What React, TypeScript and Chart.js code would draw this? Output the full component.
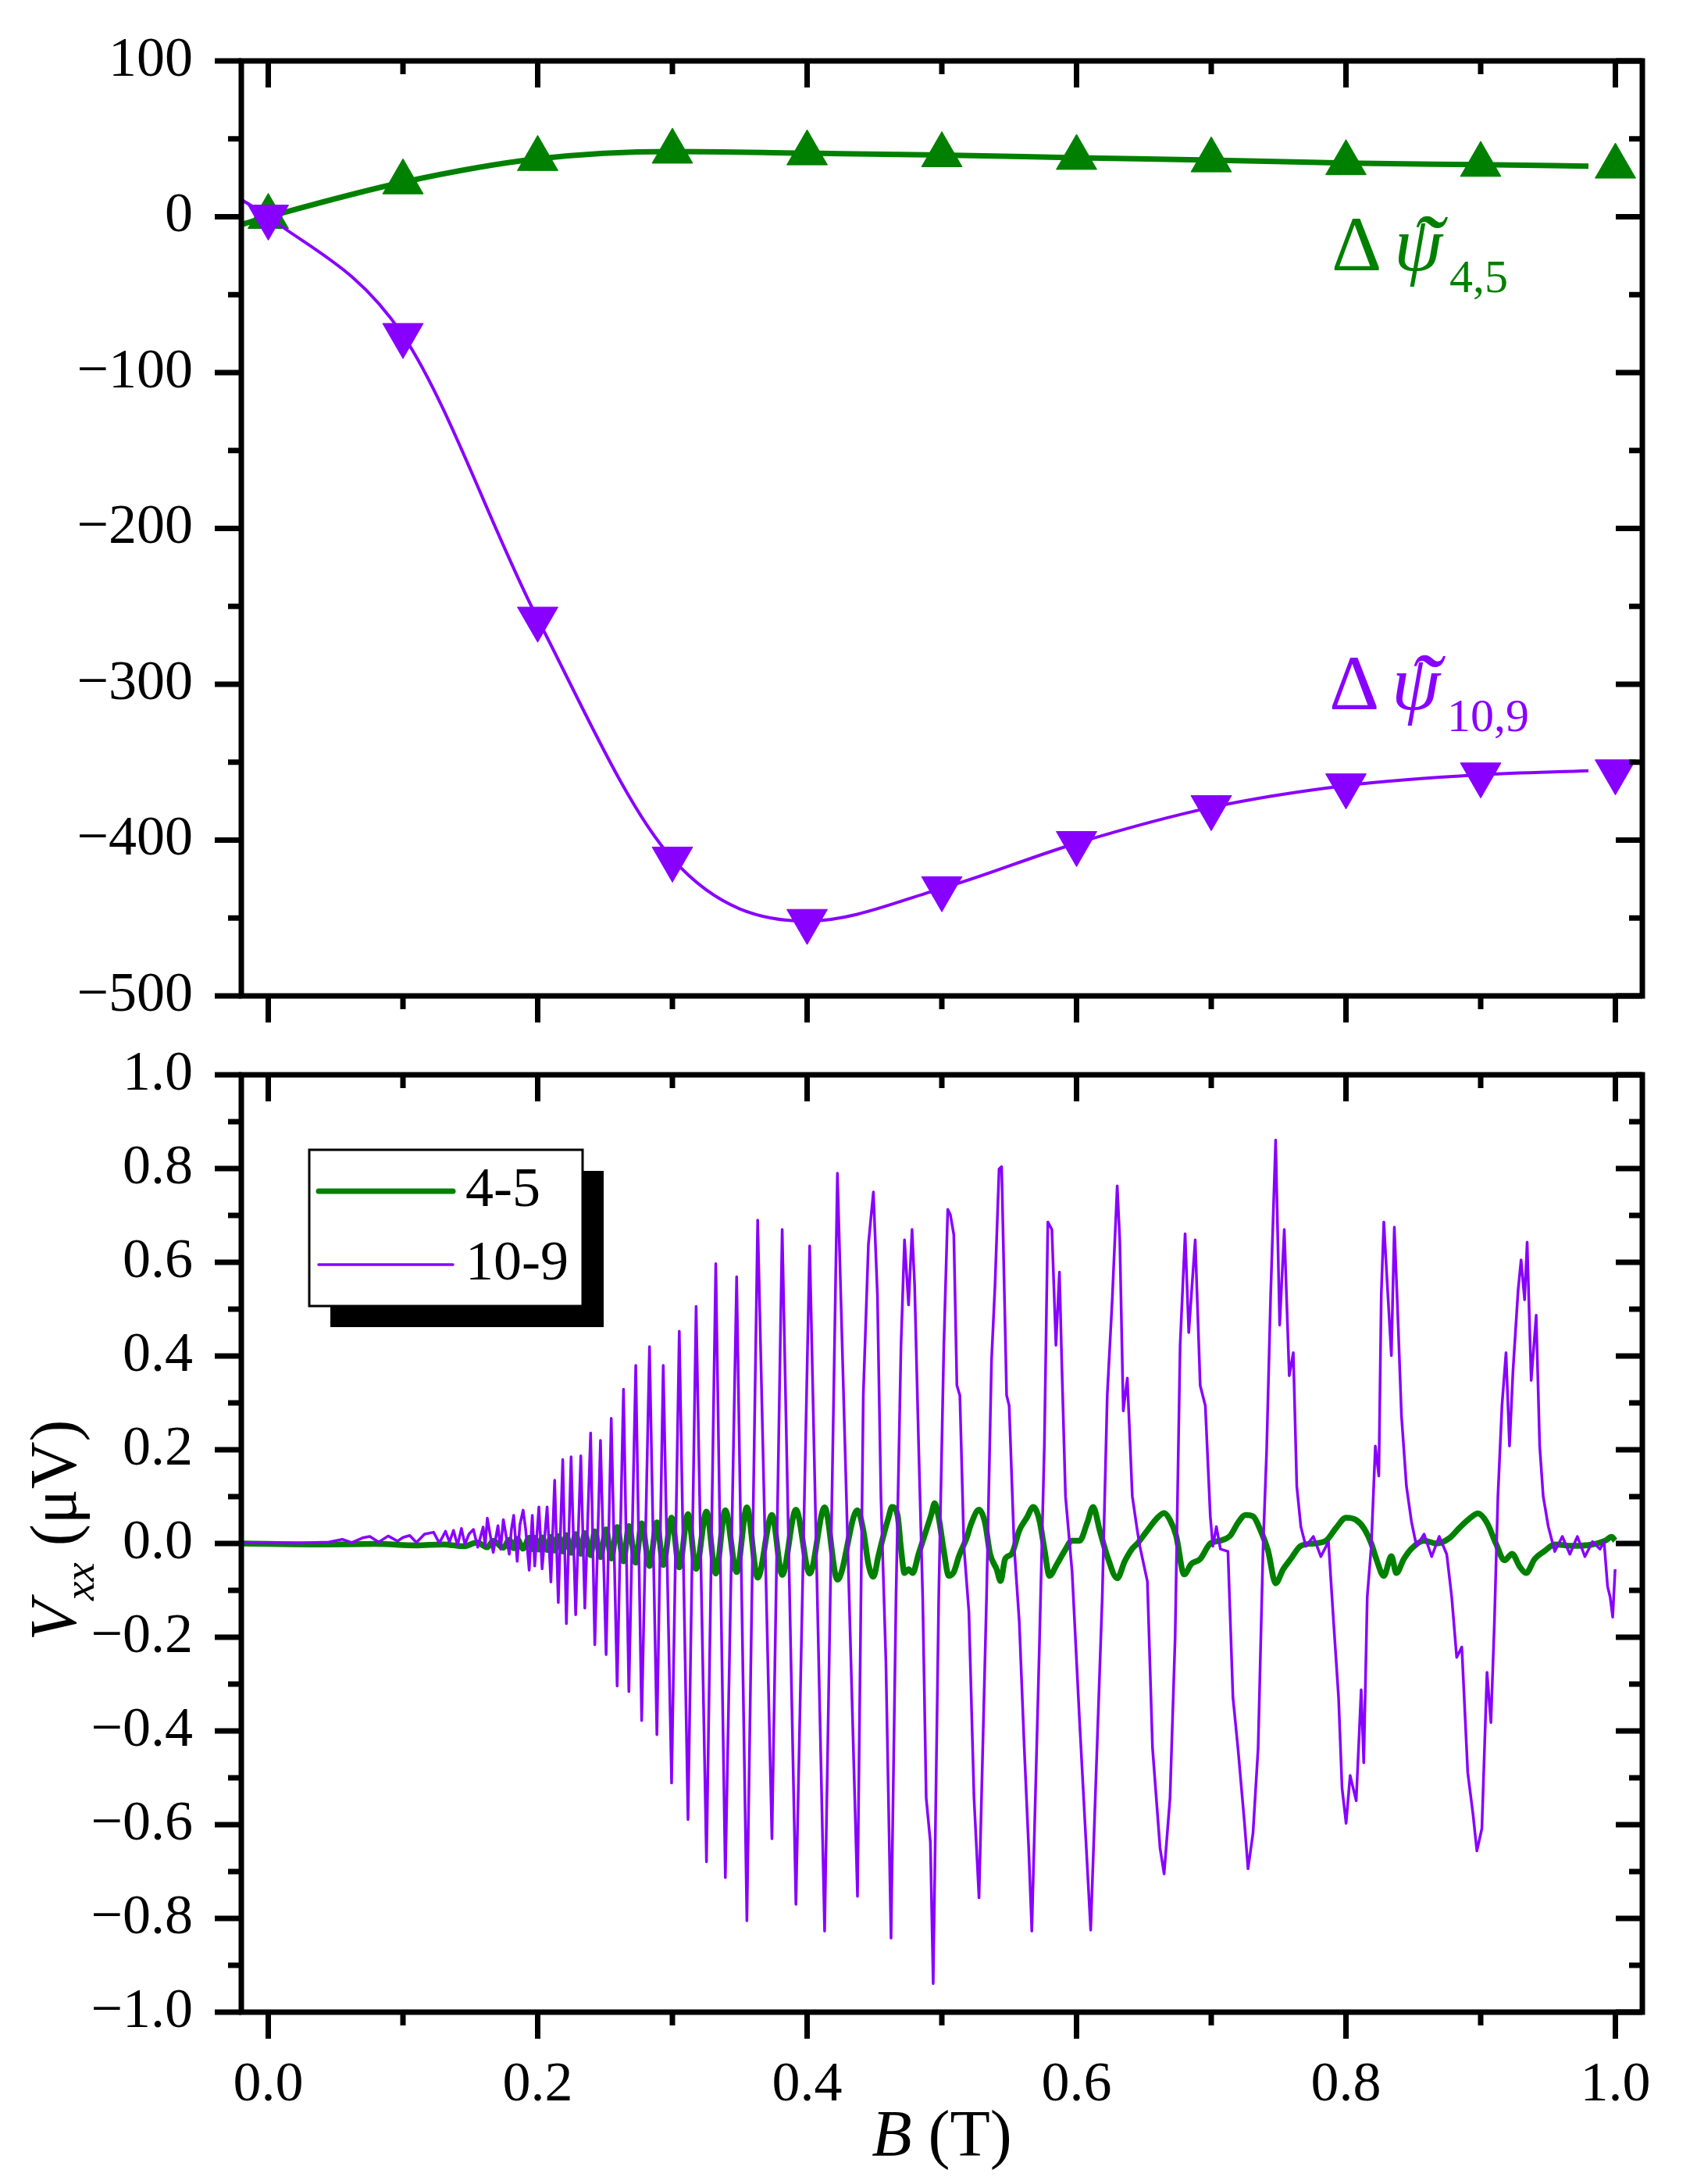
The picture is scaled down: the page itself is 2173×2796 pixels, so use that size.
import React, { useEffect, useRef } from 'react';
import { Chart, registerables } from 'chart.js';

Chart.register(...registerables);

const SERIF = '"Liberation Serif", "Times New Roman", Times, serif';
const GREEN = '#008000';
const VIOLET = '#8800ff';
const MINUS = '\u2212';

// ---------- upper panel: phase shift versus field ----------
const markerField = [0, 0.1, 0.2, 0.3, 0.4, 0.5, 0.6, 0.7, 0.8, 0.9, 1.0];
const psi45 = [0, 22.2, 37.2, 41.9, 40.8, 39.6, 37.9, 36.3, 34.5, 33.4, 32.3];
const psi109 = [0, -76, -258, -412, -452, -431, -402, -379, -365, -358, -356];

// guide curves drawn through the markers
const guideField = [-0.02, 0, 0.1, 0.2, 0.3, 0.4, 0.5, 0.6, 0.7, 0.8, 0.9, 0.98];
const guide45 = [-5, 0, 22.2, 37.2, 41.9, 40.8, 39.6, 37.9, 36.3, 34.5, 33.4, 32.5];
const guide109 = [11, 0, -76, -258, -412, -452, -431, -402, -379, -365, -358, -355.5];

// ---------- lower panel: V_xx traces ----------
const field45 = [
  -0.019, 0.04, 0.08, 0.11, 0.13, 0.145, 0.155, 0.1626, 0.167, 0.1745,
  0.1789, 0.1822, 0.1848, 0.1892, 0.1937, 0.196, 0.1978, 0.2009, 0.2033, 0.207,
  0.2098,
  0.2126, 0.2153, 0.2186, 0.2213, 0.2248, 0.2282, 0.232, 0.235, 0.2393, 0.2424,
  0.2466, 0.2508, 0.2546, 0.259, 0.2637, 0.2677, 0.2728, 0.2772, 0.283, 0.2885,
  0.2932, 0.2994, 0.3051, 0.3116, 0.3176, 0.3253, 0.3322, 0.3393, 0.3477, 0.3553,
  0.3633, 0.3739, 0.3815, 0.3917, 0.4019, 0.413, 0.4225, 0.4374,
  0.4417, 0.4455, 0.4492, 0.4529, 0.4567, 0.4604, 0.463, 0.4671, 0.4697, 0.4723,
  0.4753, 0.4783, 0.4828, 0.4884, 0.4921, 0.4947, 0.4977, 0.5015, 0.5052, 0.5089,
  0.5127, 0.5183, 0.522, 0.5276, 0.5321, 0.5358, 0.5407, 0.5436, 0.547, 0.5519,
  0.5575, 0.5631, 0.5679, 0.5724, 0.5761, 0.5799, 0.5855, 0.5911, 0.5967, 0.6023,
  0.6079, 0.6123, 0.6172, 0.6228, 0.6302, 0.6358, 0.6414, 0.6452, 0.6526, 0.6601,
  0.665, 0.6694, 0.6739, 0.6799, 0.6851, 0.6918, 0.6993, 0.7068, 0.7142, 0.7198,
  0.7254, 0.731, 0.7366, 0.7422, 0.7478, 0.7534, 0.759, 0.7665, 0.7758, 0.7852,
  0.7926, 0.8001, 0.8076, 0.8132, 0.8188, 0.8225, 0.8281, 0.8337, 0.8374, 0.843,
  0.8486, 0.858, 0.8673, 0.8766, 0.8841, 0.8916, 0.898, 0.9047, 0.9113, 0.9177,
  0.9233, 0.9289, 0.9337, 0.9401, 0.9475, 0.955, 0.9681, 0.983, 0.9924, 0.9972,
  0.9998,
];
const vxx45 = [
  0.0, -0.002, -0.001, -0.004, -0.002, -0.006, 0.002, -0.008, 0.006, -0.009,
  0.008, -0.01, 0.01, -0.011, 0.012, -0.012, 0.012, -0.013, 0.013, -0.014,
  0.014,
  -0.015, 0.016, -0.017, 0.018, -0.02, 0.02, -0.022, 0.022, -0.025, 0.026,
  -0.029, 0.03, -0.032, 0.035, -0.038, 0.037, -0.041, 0.043, -0.048, 0.045,
  -0.046, 0.055, -0.051, 0.0625, -0.054, 0.068, -0.064, 0.071, -0.061, 0.077,
  -0.073, 0.061, -0.067, 0.072, -0.064, 0.077, -0.077, 0.071,
  0.028, -0.044, -0.071, -0.027, 0.017, 0.055, 0.078, 0.061, -0.011, -0.063,
  -0.055, -0.063, -0.022, 0.028, 0.061, 0.086, 0.055, -0.016, -0.069, -0.061,
  -0.027, 0.011, 0.044, 0.072, 0.044, -0.022, -0.055, -0.08, -0.033, -0.022,
  0.028, 0.055, 0.078, 0.05, -0.011, -0.069, -0.044, -0.016, 0.006, 0.006,
  0.044, 0.078, 0.028, -0.027, -0.074, -0.038, -0.011, 0.0, 0.028, 0.055,
  0.065, 0.05, 0.017, -0.066, -0.044, -0.033, 0.0, 0.006, 0.017, 0.044,
  0.061, 0.058, 0.028, -0.016, -0.085, -0.055, -0.033, -0.005, 0.0, 0.006,
  0.033, 0.055, 0.05, 0.033, 0.0, -0.033, -0.069, -0.027, -0.063, -0.033,
  -0.011, 0.006, 0.0, 0.011, 0.033, 0.053, 0.064, 0.044, 0.0, -0.036,
  -0.022, -0.049, -0.063, -0.033, -0.016, -0.002, -0.005, -0.002, 0.006, 0.014,
  0.006,
];

const field109 = [
  -0.019, 0.02, 0.045, 0.055, 0.062, 0.07, 0.0754, 0.082, 0.089, 0.096,
  0.1, 0.105, 0.11, 0.116, 0.1227, 0.127, 0.1316, 0.1345, 0.1375, 0.1405,
  0.1434, 0.146, 0.149, 0.1523, 0.1555, 0.1595, 0.161, 0.1626, 0.167, 0.1705,
  0.1725, 0.1745, 0.1789, 0.1805, 0.1822, 0.1848, 0.1868, 0.1892, 0.1911, 0.1937,
  0.196, 0.1978, 0.2009, 0.2033, 0.207, 0.2098,
  0.2126, 0.2153, 0.2186, 0.2213, 0.2248, 0.2282, 0.232, 0.235, 0.2393, 0.2424,
  0.2466, 0.2508, 0.2546, 0.259, 0.2637, 0.2677, 0.2728, 0.2772, 0.283, 0.2885,
  0.2932, 0.2994, 0.3051, 0.3116, 0.3176, 0.3253, 0.3322, 0.3393, 0.3477, 0.3553,
  0.3633, 0.3739, 0.3815, 0.3917, 0.4019, 0.413, 0.4225, 0.4374,
  0.4417, 0.4455, 0.4492, 0.4522, 0.4548, 0.4585, 0.4623, 0.466, 0.4697, 0.4723,
  0.4753, 0.4779, 0.4798, 0.4828, 0.4858, 0.4884, 0.4915, 0.4936, 0.4977, 0.5015,
  0.5044, 0.5063, 0.5089, 0.5112, 0.5134, 0.5164, 0.5201, 0.5239, 0.5276, 0.5332,
  0.5369, 0.5395, 0.5425, 0.5444, 0.5463, 0.5481, 0.55, 0.5537, 0.5575, 0.5612,
  0.5645, 0.5668, 0.5724, 0.5761, 0.5787, 0.5817, 0.5847, 0.5873, 0.5892, 0.5918,
  0.5967, 0.6023, 0.6105, 0.6191, 0.6228, 0.6265, 0.6302, 0.6321, 0.6347, 0.6377,
  0.6414, 0.6452, 0.647, 0.6526, 0.6564, 0.662, 0.665, 0.6694, 0.6732, 0.6769,
  0.6806, 0.6833, 0.6881, 0.6918, 0.6956, 0.6993, 0.7012, 0.7038, 0.7068, 0.7124,
  0.7161, 0.7198, 0.7247, 0.7273, 0.731, 0.7348, 0.7385, 0.7411, 0.7441, 0.7478,
  0.7508, 0.7542, 0.7579, 0.7609, 0.7635, 0.7665, 0.7702, 0.7758, 0.7814, 0.787,
  0.7908, 0.7945, 0.7971, 0.8001, 0.8031, 0.8076, 0.8113, 0.8132, 0.8158, 0.8188,
  0.8218, 0.8244, 0.8262, 0.8281, 0.8307, 0.8337, 0.8359, 0.8382, 0.8412, 0.8449,
  0.8486, 0.8524, 0.858, 0.8636, 0.8692, 0.8748, 0.8785, 0.8822, 0.886, 0.8904,
  0.8942, 0.8972, 0.9009, 0.9047, 0.9076, 0.9102, 0.9128, 0.9158, 0.9188, 0.9214,
  0.924, 0.9278, 0.93, 0.9326, 0.9345, 0.9375, 0.9412, 0.9438, 0.9464, 0.9502,
  0.955, 0.9606, 0.9662, 0.9718, 0.9774, 0.983, 0.9886, 0.9916, 0.9942, 0.9961,
  0.998, 0.9998,
];
const vxx109 = [
  0.002, 0.001, 0.003, 0.009, 0.002, 0.012, 0.015, 0.003, 0.016, 0.005,
  0.013, 0.017, 0.002, 0.02, 0.024, 0.001, 0.026, 0.003, 0.028, -0.004,
  0.032, -0.002, 0.02, 0.03, -0.008, 0.035, -0.006, 0.054, -0.019, 0.038,
  -0.012, 0.051, -0.023, 0.03, 0.06, -0.038, 0.04, 0.071, 0.03, -0.057,
  0.06, -0.048, 0.078, -0.054, 0.078, -0.082,
  0.135, -0.126, 0.179, -0.171, 0.185, -0.152, 0.187, -0.138, 0.236, -0.216,
  0.22, -0.237, 0.267, -0.304, 0.329, -0.316, 0.38, -0.378, 0.42, -0.408,
  0.38, -0.511, 0.453, -0.589, 0.506, -0.679, 0.597, -0.713, 0.569, -0.805,
  0.69, -0.63, 0.67, -0.77, 0.635, -0.827, 0.79, -0.753,
  0.316, 0.638, 0.75, 0.53, 0.1, -0.253, -0.842, -0.114, 0.423, 0.648,
  0.509, 0.67, 0.552, 0.208, -0.114, -0.543, -0.637, -0.939, -0.114, 0.423,
  0.713, 0.702, 0.659, 0.337, 0.316, -0.006, -0.146, -0.543, -0.756, -0.114,
  0.391, 0.552, 0.799, 0.804, 0.552, 0.316, 0.294, -0.006, -0.167, -0.436,
  -0.651, -0.827, -0.221, 0.208, 0.686, 0.67, 0.423, 0.579, 0.369, 0.101,
  -0.06, -0.382, -0.825, -0.114, 0.316, 0.52, 0.763, 0.648, 0.283, 0.353,
  0.101, 0.026, -0.006, -0.081, -0.436, -0.65, -0.705, -0.543, -0.2, 0.423,
  0.661, 0.45, 0.648, 0.337, 0.294, 0.058, -0.006, 0.036, -0.012, -0.017,
  -0.328, -0.436, -0.597, -0.694, -0.618, -0.436, -0.006, 0.197, 0.53, 0.861,
  0.466, 0.67, 0.358, 0.407, 0.122, 0.036, -0.006, 0.015, -0.028, 0.004,
  -0.167, -0.328, -0.522, -0.597, -0.495, -0.549, -0.312, -0.468, -0.114, -0.006,
  0.208, 0.144, 0.53, 0.686, 0.552, 0.401, 0.675, 0.509, 0.273, 0.122,
  0.047, -0.006, 0.02, -0.028, 0.015, -0.023, -0.114, -0.243, -0.221, -0.489,
  -0.575, -0.656, -0.608, -0.275, -0.382, -0.167, 0.101, 0.294, 0.407, 0.208,
  0.369, 0.541, 0.605, 0.52, 0.643, 0.348, 0.487, 0.208, 0.101, 0.036,
  -0.017, 0.015, -0.023, 0.015, -0.028, 0.004, -0.012, 0.004, -0.092, -0.114,
  -0.157, -0.055,
];

// ---------- axes ----------
const fieldTicks = [0, 0.2, 0.4, 0.6, 0.8, 1.0];
const psiTicks = [-500, -400, -300, -200, -100, 0, 100];
const vxxTicks = [-1, -0.8, -0.6, -0.4, -0.2, 0, 0.2, 0.4, 0.6, 0.8, 1];
const legendLabels = ['4-5', '10-9'];

const pts = (xs: number[], ys: number[]) =>
  xs.slice(0, Math.min(xs.length, ys.length)).map((x, i) => ({ x, y: ys[i] }));
const midpoints = (t: number[]) => t.slice(1).map((v, i) => (v + t[i]) / 2);
const signed = (v: number, digits: number) =>
  (v < -1e-9 ? MINUS : '') + Math.abs(v).toFixed(digits);

// page geometry
const W = 2173;
const TOP_H = 1330;
const BOT_H = 2796 - TOP_H;
const PLOT_LEFT = 309;
const PLOT_RIGHT = 2103;

function drawFrame(chart: any, xMajor: number[], yMajor: number[]) {
  const { ctx, chartArea: a } = chart;
  const sx = chart.scales.x;
  const sy = chart.scales.y;
  const xMinor = midpoints(xMajor);
  const yMinor = midpoints(yMajor);
  ctx.save();
  ctx.strokeStyle = '#000';
  ctx.lineWidth = 7;
  ctx.lineCap = 'butt';
  const seg = (x1: number, y1: number, x2: number, y2: number) => {
    ctx.beginPath();
    ctx.moveTo(x1, y1);
    ctx.lineTo(x2, y2);
    ctx.stroke();
  };
  const xMarks = (vals: number[], len: number) => {
    for (const v of vals) {
      const px = sx.getPixelForValue(v);
      seg(px, a.bottom, px, a.bottom + len); // outward
      seg(px, a.top, px, a.top + len); // inward
    }
  };
  const yMarks = (vals: number[], len: number) => {
    for (const v of vals) {
      const py = sy.getPixelForValue(v);
      seg(a.left, py, a.left - len, py); // outward
      seg(a.right, py, a.right - len, py); // inward
    }
  };
  xMarks(xMajor, 34);
  xMarks(xMinor, 17);
  yMarks(yMajor, 34);
  yMarks(yMinor, 17);
  ctx.strokeRect(a.left, a.top, a.right - a.left, a.bottom - a.top);
  ctx.restore();
}

function glyphAt(ctx: CanvasRenderingContext2D, text: string, cx: number, cy: number) {
  const m = ctx.measureText(text);
  const x = cx - (m.actualBoundingBoxRight - m.actualBoundingBoxLeft) / 2;
  const y = cy + (m.actualBoundingBoxAscent - m.actualBoundingBoxDescent) / 2;
  ctx.fillText(text, x, y);
}

function psiLabel(ctx: CanvasRenderingContext2D, x0: number, base: number, sub: string, color: string) {
  ctx.save();
  ctx.fillStyle = color;
  ctx.textAlign = 'left';
  ctx.textBaseline = 'alphabetic';
  ctx.font = `100px ${SERIF}`;
  ctx.fillText('\u0394', x0, base);
  ctx.font = `italic 100px ${SERIF}`;
  ctx.fillText('\u03c8', x0 + 80, base);
  ctx.font = `italic 120px ${SERIF}`;
  glyphAt(ctx, '\u02dc', x0 + 129, base - 62);
  ctx.font = `60px ${SERIF}`;
  ctx.fillText(sub, x0 + 151, base + 28);
  ctx.restore();
}

const upperDecor = {
  id: 'upperDecor',
  afterDraw(chart: any) {
    drawFrame(chart, fieldTicks, psiTicks);
    const ctx = chart.ctx as CanvasRenderingContext2D;
    psiLabel(ctx, 1705, 346, '4,5', GREEN);
    psiLabel(ctx, 1702, 908, '10,9', VIOLET);
  },
};

const lowerDecor = {
  id: 'lowerDecor',
  afterDraw(chart: any) {
    drawFrame(chart, fieldTicks, vxxTicks);
    const ctx = chart.ctx as CanvasRenderingContext2D;
    const a = chart.chartArea;

    // legend with drop shadow
    const lx = 396, ly = 142, lw = 350, lh = 200;
    ctx.save();
    ctx.fillStyle = '#000';
    ctx.fillRect(lx + 27, ly + 27, lw, lh);
    ctx.fillStyle = '#fff';
    ctx.fillRect(lx, ly, lw, lh);
    ctx.strokeStyle = '#000';
    ctx.lineWidth = 3;
    ctx.strokeRect(lx, ly, lw, lh);
    const rows = [
      { y: 195, color: GREEN, width: 7 },
      { y: 289, color: VIOLET, width: 3.5 },
    ];
    rows.forEach((r, i) => {
      ctx.beginPath();
      ctx.strokeStyle = r.color;
      ctx.lineWidth = r.width;
      ctx.lineCap = 'round';
      ctx.moveTo(408, r.y);
      ctx.lineTo(580, r.y);
      ctx.stroke();
      ctx.fillStyle = '#000';
      ctx.font = `72px ${SERIF}`;
      ctx.textAlign = 'left';
      ctx.textBaseline = 'middle';
      ctx.fillText(legendLabels[i], 596, r.y);
    });

    // x title: B (T)
    ctx.fillStyle = '#000';
    ctx.textBaseline = 'alphabetic';
    ctx.textAlign = 'left';
    const tSize = 84;
    ctx.font = `italic ${tSize}px ${SERIF}`;
    const wB = ctx.measureText('B').width;
    ctx.font = `${tSize}px ${SERIF}`;
    const wRest = ctx.measureText(' (T)').width;
    const cx = (a.left + a.right) / 2;
    const x = cx - (wB + wRest) / 2;
    const base = 1430;
    ctx.font = `italic ${tSize}px ${SERIF}`;
    ctx.fillText('B', x, base);
    ctx.font = `${tSize}px ${SERIF}`;
    ctx.fillText(' (T)', x + wB, base);

    // y title: V_xx (μV), rotated
    ctx.save();
    ctx.translate(97, 629);
    ctx.rotate(-Math.PI / 2);
    ctx.font = `italic ${tSize}px ${SERIF}`;
    const wV = ctx.measureText('V').width;
    ctx.font = `italic 55px ${SERIF}`;
    const wxx = ctx.measureText('xx').width;
    ctx.font = `${tSize}px ${SERIF}`;
    const wUnit = ctx.measureText(' (\u03bcV)').width;
    let tx = -(wV + wxx + wUnit) / 2;
    ctx.font = `italic ${tSize}px ${SERIF}`;
    ctx.fillText('V', tx, 0);
    tx += wV;
    ctx.font = `italic 55px ${SERIF}`;
    ctx.fillText('xx', tx, 23);
    tx += wxx;
    ctx.font = `${tSize}px ${SERIF}`;
    ctx.fillText(' (\u03bcV)', tx, 0);
    ctx.restore();
    ctx.restore();
  },
};

const tickFont = { family: SERIF, size: 72 };

function baseOptions(padTop: number, xHeight: number, showX: boolean, yMin: number, yMax: number, yTicks: number[], yDigits: number) {
  return {
    responsive: false,
    animation: false as const,
    devicePixelRatio: 1,
    events: [] as any[],
    layout: { padding: { top: padTop, left: 0, right: W - PLOT_RIGHT, bottom: 0 } },
    plugins: { legend: { display: false }, tooltip: { enabled: false } },
    scales: {
      x: {
        type: 'linear' as const,
        min: -0.02,
        max: 1.02,
        // tick marks are drawn by the frame plugin; tickLength only spaces the labels
        grid: { display: false, drawTicks: true, tickLength: 51 },
        border: { display: false },
        ticks: {
          display: showX,
          font: tickFont,
          color: '#000',
          padding: 0,
          autoSkip: false,
          maxRotation: 0,
          callback: (v: any) => Number(v).toFixed(1),
        },
        afterBuildTicks: (s: any) => {
          s.ticks = fieldTicks.map((value) => ({ value }));
        },
        afterFit: (s: any) => {
          s.height = xHeight;
        },
      },
      y: {
        type: 'linear' as const,
        min: yMin,
        max: yMax,
        grid: { display: false, drawTicks: true, tickLength: 62 },
        border: { display: false },
        ticks: {
          font: tickFont,
          color: '#000',
          padding: 0,
          autoSkip: false,
          callback: (v: any) => signed(Number(v), yDigits),
        },
        afterBuildTicks: (s: any) => {
          s.ticks = yTicks.map((value) => ({ value }));
        },
        afterFit: (s: any) => {
          s.width = PLOT_LEFT;
        },
      },
    },
  };
}

export default function App() {
  const topRef = useRef<HTMLCanvasElement>(null);
  const botRef = useRef<HTMLCanvasElement>(null);

  useEffect(() => {
    const upper = new Chart(topRef.current as HTMLCanvasElement, {
      type: 'line',
      data: {
        datasets: [
          {
            label: '10,9',
            data: pts(markerField, psi109),
            showLine: false,
            pointStyle: 'triangle',
            pointRotation: 180,
            pointRadius: 30,
            pointBackgroundColor: VIOLET,
            pointBorderColor: VIOLET,
            pointBorderWidth: 1,
            order: 0,
          },
          {
            label: '10,9 curve',
            data: pts(guideField, guide109),
            borderColor: VIOLET,
            borderWidth: 4,
            pointRadius: 0,
            cubicInterpolationMode: 'monotone',
            order: 1,
          },
          {
            label: '4,5',
            data: pts(markerField, psi45),
            showLine: false,
            pointStyle: 'triangle',
            pointRadius: 30,
            pointBackgroundColor: GREEN,
            pointBorderColor: GREEN,
            pointBorderWidth: 1,
            order: 2,
          },
          {
            label: '4,5 curve',
            data: pts(guideField, guide45),
            borderColor: GREEN,
            borderWidth: 7,
            pointRadius: 0,
            cubicInterpolationMode: 'monotone',
            order: 3,
          },
        ],
      } as any,
      options: baseOptions(78, TOP_H - 1275, false, -500, 100, psiTicks, 0) as any,
      plugins: [upperDecor],
    });

    const lower = new Chart(botRef.current as HTMLCanvasElement, {
      type: 'line',
      data: {
        datasets: [
          {
            label: legendLabels[1],
            data: pts(field109, vxx109),
            borderColor: VIOLET,
            borderWidth: 3.5,
            pointRadius: 0,
            tension: 0,
            borderJoinStyle: 'round',
            order: 0,
          },
          {
            label: legendLabels[0],
            data: pts(field45, vxx45),
            borderColor: GREEN,
            borderWidth: 7.5,
            pointRadius: 0,
            cubicInterpolationMode: 'monotone',
            borderJoinStyle: 'round',
            order: 1,
          },
        ],
      } as any,
      options: baseOptions(46, BOT_H - 1246, true, -1, 1, vxxTicks, 1) as any,
      plugins: [lowerDecor],
    });

    return () => {
      upper.destroy();
      lower.destroy();
    };
  }, []);

  return (
    <div style={{ position: 'absolute', left: 0, top: 0, width: W, height: 2796, background: '#fff' }}>
      <canvas
        ref={topRef}
        width={W}
        height={TOP_H}
        style={{ position: 'absolute', left: 0, top: 0, width: W, height: TOP_H }}
      />
      <canvas
        ref={botRef}
        width={W}
        height={BOT_H}
        style={{ position: 'absolute', left: 0, top: TOP_H, width: W, height: BOT_H }}
      />
    </div>
  );
}
